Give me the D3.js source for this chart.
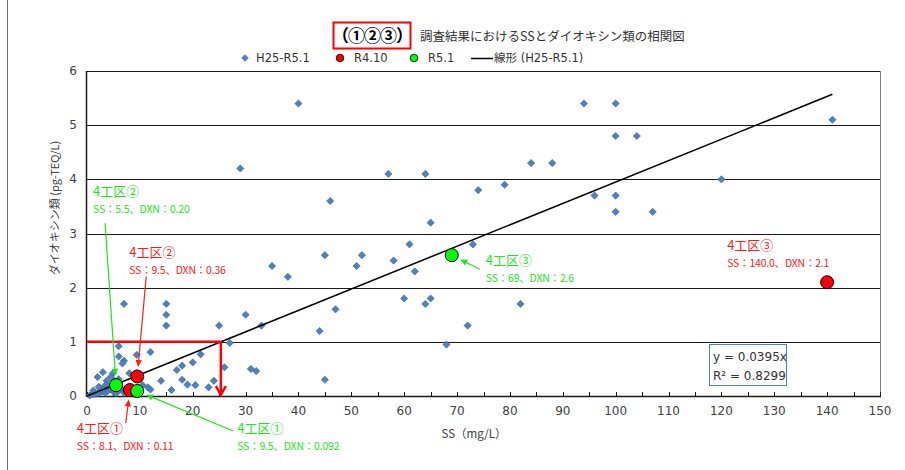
<!DOCTYPE html>
<html lang="ja">
<head>
<meta charset="utf-8">
<script src="https://cdn.jsdelivr.net/npm/d3@7"></script>
<style>
  html, body { margin: 0; padding: 0; background: #fff; }
  svg { display: block; }
  text { font-family: "DejaVu Sans", "Noto Sans CJK JP", sans-serif; }
  .jp { font-family: "Noto Sans CJK JP", "DejaVu Sans", sans-serif; }
</style>
</head>
<body>
<script>
// ---- data ----------------------------------------------------------------
// H25-R5.1 survey results: SS (mg/L) and dioxins (pg-TEQ/L)
const histSS = [
  40, 29, 57, 64, 46, 65, 61, 45, 52, 35, 51, 58, 62, 38, 60, 65, 64, 47, 30, 25,
  33, 44, 27, 68, 26, 31, 32, 45, 24, 23, 94, 100, 100, 104, 84, 88, 74, 79, 96, 100,
  100, 107, 73, 82, 72, 141, 120,
  7, 15, 15, 15, 6, 12, 9.4, 6, 7, 6.7, 8, 3, 2, 4.9, 4.5, 3.7, 5.2, 6, 14,
  18, 19, 20.5, 17, 18, 20, 21.5, 16, 11.5, 12, 10.5,
  0.5, 1, 1.5, 2, 2.5, 3, 3.5, 4, 4.5, 5, 5.5, 6, 6.5, 7, 2.5, 3.5, 4.2, 1.2, 2.2, 3.2
];
const histDXN = [
  5.4, 4.2, 4.1, 4.1, 3.6, 3.2, 2.8, 2.6, 2.6, 2.4, 2.4, 2.5, 2.3, 2.2, 1.8, 1.8, 1.7, 1.6, 1.5, 1.3,
  1.3, 1.2, 0.98, 0.95, 0.53, 0.5, 0.46, 0.3, 0.28, 0.16, 5.4, 5.4, 4.8, 4.8, 4.3, 4.3, 3.8, 3.9, 3.7, 3.7,
  3.4, 3.4, 2.8, 1.7, 1.3, 5.1, 4.0,
  1.7, 1.7, 1.5, 1.3, 0.92, 0.81, 0.76, 0.73, 0.65, 0.6, 0.42, 0.44, 0.35, 0.42, 0.35, 0.28, 0.28, 0.31, 0.28,
  0.3, 0.21, 0.2, 0.48, 0.56, 0.62, 0.77, 0.11, 0.16, 0.12, 0.2,
  0.01, 0.03, 0.04, 0.05, 0.07, 0.08, 0.06, 0.1, 0.12, 0.08, 0.05, 0.1, 0.14, 0.06, 0.15, 0.2, 0.18, 0.1, 0.17, 0.13
];

// R4.10 and R5.1 results by work section
const sections   = ["4工区①", "4工区②", "4工区③"];
const r410SS     = [8.1, 9.5, 140.0];
const r410DXN    = [0.11, 0.36, 2.1];
const r410Labels = ["SS：8.1、DXN：0.11", "SS：9.5、DXN：0.36", "SS：140.0、DXN：2.1"];
const r51SS      = [9.5, 5.5, 69];
const r51DXN     = [0.092, 0.20, 2.6];
const r51Labels  = ["SS：9.5、DXN：0.092", "SS：5.5、DXN：0.20", "SS：69、DXN：2.6"];

// linear trend through the origin (H25-R5.1)
const trendSlope = 0.0395;
const trendR2    = 0.8299;
const trendMaxSS = 141;

// reference level of dioxins
const refDXN = 1;

const xTicks = d3.range(0, 151, 10);
const yTicks = d3.range(0, 7, 1);

// ---- layout ----------------------------------------------------------------
const W = 905, H = 470;
const plot = { left: 87, right: 880, top: 71, bottom: 396 };

const svg = d3.select("body").append("svg").attr("width", W).attr("height", H);

const x = d3.scaleLinear().domain([0, 150]).range([plot.left, plot.right]);
const y = d3.scaleLinear().domain([0, 6]).range([plot.bottom, plot.top]);

// outer frame line
svg.append("line").attr("x1", 7.5).attr("x2", 7.5).attr("y1", 0).attr("y2", H)
  .attr("stroke", "#6b6b6b").attr("stroke-width", 1);

// horizontal gridlines
svg.append("g").selectAll("line").data(yTicks.filter(d => d > 0)).join("line")
  .attr("x1", plot.left).attr("x2", plot.right)
  .attr("y1", d => Math.round(y(d)) + 0.5).attr("y2", d => Math.round(y(d)) + 0.5)
  .attr("stroke", "#1a1a1a").attr("stroke-width", 1);

// right border of the plot
svg.append("line").attr("x1", plot.right + 0.5).attr("x2", plot.right + 0.5)
  .attr("y1", plot.top).attr("y2", plot.bottom)
  .attr("stroke", "#7f7f7f").attr("stroke-width", 1);

// x axis with inward minor ticks every 5
const xAxis = svg.append("g").attr("transform", `translate(0,${plot.bottom})`);
xAxis.append("line").attr("x1", plot.left).attr("x2", plot.right + 1)
  .attr("y1", 0.5).attr("y2", 0.5).attr("stroke", "#1a1a1a").attr("stroke-width", 1.5);
xAxis.selectAll("line.tick").data(d3.range(0, 151, 5)).join("line").attr("class", "tick")
  .attr("x1", d => Math.round(x(d)) + 0.5).attr("x2", d => Math.round(x(d)) + 0.5)
  .attr("y1", 0).attr("y2", -4).attr("stroke", "#1a1a1a");
xAxis.selectAll("text").data(xTicks).join("text")
  .attr("x", d => x(d)).attr("y", 19).attr("text-anchor", "middle")
  .attr("font-size", 12).attr("fill", "#404040").text(d => d);

// y axis
const yAxis = svg.append("g");
yAxis.append("line").attr("x1", plot.left - 0.5).attr("x2", plot.left - 0.5)
  .attr("y1", plot.top).attr("y2", plot.bottom + 1)
  .attr("stroke", "#1a1a1a").attr("stroke-width", 1.5);
yAxis.selectAll("text").data(yTicks).join("text")
  .attr("x", 77).attr("y", d => y(d) + 4).attr("text-anchor", "end")
  .attr("font-size", 12).attr("fill", "#404040").text(d => d);

// axis titles
svg.append("text").attr("class", "jp").attr("x", 474).attr("y", 438)
  .attr("text-anchor", "middle").attr("font-size", 11.5).attr("fill", "#404040")
  .text("SS（mg/L）");
svg.append("text").attr("class", "jp")
  .attr("transform", "translate(59,208) rotate(-90)")
  .attr("text-anchor", "middle").attr("font-size", 11).attr("fill", "#404040")
  .text("ダイオキシン類 (pg-TEQ/L)");

// historical points (diamonds)
const diamond = d3.symbol().type(d3.symbolSquare).size(26);
svg.append("g").selectAll("path").data(histSS.map((s, i) => [s, histDXN[i]])).join("path")
  .attr("d", diamond)
  .attr("transform", d => `translate(${x(d[0])},${y(d[1])}) rotate(45)`)
  .attr("fill", "#4f81bd").attr("stroke", "#3a6496").attr("stroke-width", 0.6);

// trend line
svg.append("line")
  .attr("x1", x(0)).attr("y1", y(0))
  .attr("x2", x(trendMaxSS)).attr("y2", y(trendSlope * trendMaxSS))
  .attr("stroke", "#000").attr("stroke-width", 1.5);

// reference level: DXN = 1 projected onto SS via the trend
const refSS = refDXN / trendSlope;
svg.append("path")
  .attr("d", `M${x(0)},${y(refDXN)} H${x(refSS)} V${y(0) - 1}`)
  .attr("fill", "none").attr("stroke", "#ff0000").attr("stroke-width", 2.5);
svg.append("path")
  .attr("d", `M${x(refSS) - 5},${y(0) - 10} L${x(refSS)},${y(0) - 1} L${x(refSS) + 5},${y(0) - 10}`)
  .attr("fill", "none").attr("stroke", "#ff0000").attr("stroke-width", 2.5)
  .attr("stroke-linejoin", "miter");

// survey points
const red = "#ff0000", green = "#00ff00";
const redText = "#ff1a1a", greenText = "#1ee61e";
const dotR = 6.5;

function circles(ss, dxn, fill) {
  svg.append("g").selectAll("circle").data(ss.map((s, i) => [s, dxn[i]])).join("circle")
    .attr("cx", d => x(d[0])).attr("cy", d => y(d[1])).attr("r", dotR)
    .attr("fill", fill).attr("stroke", "#000").attr("stroke-width", 1);
}
circles(r410SS, r410DXN, red);
circles(r51SS, r51DXN, green);

// annotation labels (offsets from the marked point, in px) and arrow start offsets
const annotations = [
  { ss: r410SS[0], dxn: r410DXN[0], title: sections[0], text: r410Labels[0], color: redText, lx: -53, ly: 43, ax: -4, ay: 33 },
  { ss: r410SS[1], dxn: r410DXN[1], title: sections[1], text: r410Labels[1], color: redText, lx: -8, ly: -120, ax: 9, ay: -100 },
  { ss: r410SS[2], dxn: r410DXN[2], title: sections[2], text: r410Labels[2], color: redText, lx: -100, ly: -32, ax: null },
  { ss: r51SS[0], dxn: r51DXN[0], title: sections[0], text: r51Labels[0], color: greenText, lx: 100, ly: 42, ax: 96, ay: 40 },
  { ss: r51SS[1], dxn: r51DXN[1], title: sections[1], text: r51Labels[1], color: greenText, lx: -23, ly: -189, ax: -11, ay: -162 },
  { ss: r51SS[2], dxn: r51DXN[2], title: sections[2], text: r51Labels[2], color: greenText, lx: 34, ly: 10, ax: 28, ay: 14 }
];

const ann = svg.append("g");
annotations.forEach(a => {
  const px = x(a.ss), py = y(a.dxn);
  const g = ann.append("g");
  g.append("text").attr("class", "jp").attr("x", px + a.lx).attr("y", py + a.ly)
    .attr("font-size", 13).attr("fill", a.color).text(a.title);
  g.append("text").attr("class", "jp").attr("x", px + a.lx).attr("y", py + a.ly + 17)
    .attr("font-size", 10.5).attr("letter-spacing", -0.2).attr("fill", a.color).text(a.text);
  if (a.ax === null) return;
  const sx = px + a.ax, sy = py + a.ay;
  const dx = px - sx, dy = py - sy, len = Math.hypot(dx, dy);
  const ux = dx / len, uy = dy / len;
  const tx = px - ux * (dotR + 3), ty = py - uy * (dotR + 3);
  const hl = 7, hw = 3.2;
  g.append("line").attr("x1", sx).attr("y1", sy)
    .attr("x2", tx - ux * hl * 0.8).attr("y2", ty - uy * hl * 0.8)
    .attr("stroke", a.color).attr("stroke-width", 1.2);
  g.append("path")
    .attr("d", `M${tx},${ty} L${tx - ux * hl - uy * hw},${ty - uy * hl + ux * hw} L${tx - ux * hl + uy * hw},${ty - uy * hl - ux * hw} Z`)
    .attr("fill", a.color);
});

// trend equation box
const eq = svg.append("g").attr("transform", "translate(709,344)");
eq.append("rect").attr("x", 0.5).attr("y", 0.5).attr("width", 77).attr("height", 41)
  .attr("fill", "#fff").attr("stroke", "#4f81bd").attr("stroke-width", 1);
eq.append("text").attr("x", 4).attr("y", 17).attr("font-size", 12).attr("fill", "#333")
  .text(`y = ${trendSlope}x`);
eq.append("text").attr("x", 4).attr("y", 36).attr("font-size", 12).attr("fill", "#333")
  .text(`R² = ${trendR2}`);

// title
svg.append("rect").attr("x", 333.5).attr("y", 22.5).attr("width", 77).attr("height", 26)
  .attr("fill", "none").attr("stroke", "#ff0000").attr("stroke-width", 2);
svg.append("text").attr("class", "jp").attr("x", 372).attr("y", 42)
  .attr("text-anchor", "middle").attr("font-size", 17).attr("font-weight", "bold")
  .attr("letter-spacing", -1)
  .attr("fill", "#000").text("（①②③）");
svg.append("text").attr("class", "jp").attr("x", 420).attr("y", 41)
  .attr("font-size", 12.5).attr("fill", "#333").text("調査結果におけるSSとダイオキシン類の相関図");

// legend
const lg = svg.append("g").attr("transform", "translate(0,58)");
lg.append("path").attr("d", d3.symbol().type(d3.symbolSquare).size(22))
  .attr("transform", "translate(245,0) rotate(45)").attr("fill", "#4f81bd").attr("stroke", "#3a6496").attr("stroke-width", 0.6);
lg.append("text").attr("x", 256).attr("y", 4).attr("font-size", 11.5).attr("fill", "#333").text("H25-R5.1");
lg.append("circle").attr("cx", 340).attr("cy", 0).attr("r", 3.8).attr("fill", red).attr("stroke", "#000").attr("stroke-width", 0.8);
lg.append("text").attr("x", 354).attr("y", 4).attr("font-size", 11.5).attr("fill", "#333").text("R4.10");
lg.append("circle").attr("cx", 414).attr("cy", 0).attr("r", 3.8).attr("fill", green).attr("stroke", "#000").attr("stroke-width", 0.8);
lg.append("text").attr("x", 428).attr("y", 4).attr("font-size", 11.5).attr("fill", "#333").text("R5.1");
lg.append("line").attr("x1", 471).attr("x2", 493).attr("y1", 0.5).attr("y2", 0.5).attr("stroke", "#000").attr("stroke-width", 1.5);
lg.append("text").attr("x", 494).attr("y", 4).attr("font-size", 11.5).attr("fill", "#333").text("線形 (H25-R5.1)");
</script>
</body>
</html>
